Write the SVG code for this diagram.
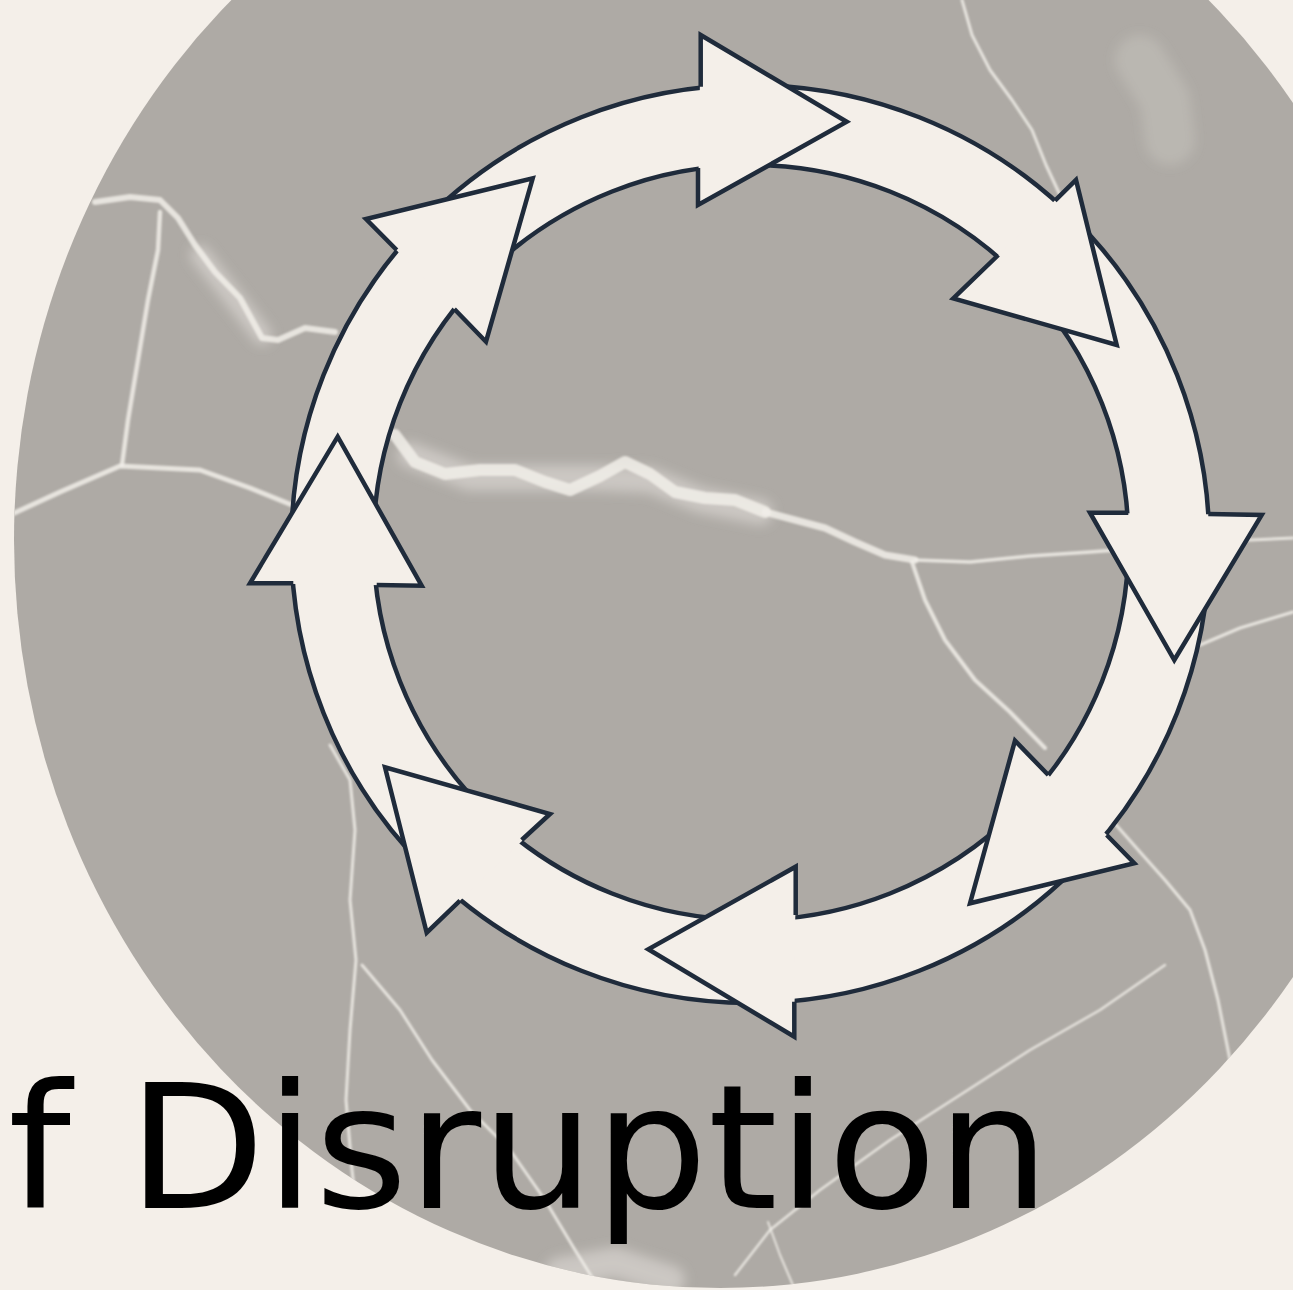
<svg xmlns="http://www.w3.org/2000/svg" width="1293" height="1290" viewBox="0 0 1293 1290">
  <defs>
    <style>
      .bg { fill: #F4EFE9; }
      .stone { fill: #AEAAA5; }
      .vein { fill: none; stroke: #F1EEE9; stroke-linecap: round; stroke-linejoin: round; opacity: 0.85; }
      .vein-soft { fill: none; stroke: #E9E6E1; stroke-linecap: round; stroke-linejoin: round; opacity: 0.5; }
      .ring { fill: #F4EFE9; fill-rule: evenodd; stroke: #1F2B3B; stroke-width: 4.5; }
      .head-fill { fill: #F4EFE9; stroke: none; }
      .head-line { fill: none; stroke: #1F2B3B; stroke-width: 4.5; stroke-linejoin: miter; stroke-linecap: butt; }
      .title { font-family: "DejaVu Sans", "Liberation Sans", sans-serif; font-size: 173px; fill: #000000; }
    </style>
    <clipPath id="stoneClip">
      <ellipse cx="720" cy="540" rx="706" ry="748"/>
    </clipPath>
    <filter id="soften" x="-10%" y="-10%" width="120%" height="120%">
      <feGaussianBlur stdDeviation="1"/>
    </filter>
    <filter id="haze" x="-20%" y="-20%" width="140%" height="140%">
      <feGaussianBlur stdDeviation="6"/>
    </filter>
  </defs>

  <!-- page -->
  <rect class="bg" x="0" y="0" width="1293" height="1290"/>

  <!-- marble disc -->
  <g id="marble">
    <ellipse class="stone" cx="720" cy="540" rx="706" ry="748"/>
    <!-- cloudy light patches -->
    <g clip-path="url(#stoneClip)" filter="url(#haze)">
      <path class="vein-soft" stroke-width="26" d="M410 455 L470 478 L540 478 L600 478 L650 480 L700 500 L760 512"/>
      <path class="vein-soft" stroke-width="20" d="M200 255 L235 300 L262 335"/>
      <path class="vein-soft" stroke-width="50" style="opacity:0.22" d="M1140 60 L1165 100 L1170 140"/>
      <path class="vein-soft" stroke-width="30" d="M560 1272 L615 1262 L670 1280"/>
    </g>
    <g clip-path="url(#stoneClip)" filter="url(#soften)">
      <!-- main horizontal crack -->
      <path class="vein" stroke-width="5" d="M10 515 L60 492 L120 466 L200 470 L250 488 L292 505"/>
      <path class="vein" stroke-width="12" d="M395 435 L415 462 L445 474 L480 470 L515 470 L545 482 L570 490 L600 476 L625 462 L650 474 L675 492 L705 498 L735 500 L765 512"/>
      <path class="vein" stroke-width="7" d="M765 512 L795 520 L825 528 L855 542 L885 555 L915 560"/>
      <path class="vein" stroke-width="3.5" d="M915 560 L970 562 L1030 556 L1090 552 L1130 549"/>
      <path class="vein" stroke-width="3" d="M1205 543 L1250 540 L1293 538"/>
      <path class="vein" stroke-width="4" d="M912 562 L925 600 L945 640 L975 680 L1010 712 L1045 748"/>
      <path class="vein" stroke-width="3" d="M1110 818 L1140 852 L1165 880 L1190 910 L1205 950 L1218 1000 L1230 1060"/>
      <path class="vein" stroke-width="3" d="M1200 645 L1240 628 L1293 612"/>
      <!-- upper left crack -->
      <path class="vein" stroke-width="6" d="M95 202 L130 197 L160 200 L178 218 L195 245 L215 272 L240 298 L262 338 L278 340 L305 328 L335 332"/>
      <path class="vein" stroke-width="4.5" d="M160 212 L158 250 L148 300 L138 360 L128 420 L122 465"/>
      <!-- top right crack -->
      <path class="vein" stroke-width="3" d="M962 0 L972 35 L990 70 L1012 100 L1032 130 L1046 165 L1060 195"/>
      <!-- lower left crack -->
      <path class="vein" stroke-width="3" d="M330 745 L350 780 L355 830 L350 900 L356 960 L350 1030 L346 1100 L352 1170 L360 1240"/>
      <path class="vein" stroke-width="3" d="M362 965 L400 1010 L432 1060 L470 1110 L510 1150 L545 1200 L575 1250 L600 1290"/>
      <!-- lower right diagonal -->
      <path class="vein" stroke-width="2.5" d="M1165 965 L1100 1010 L1030 1050 L960 1095 L890 1140 L820 1190 L770 1230 L735 1275"/>
      <path class="vein" stroke-width="2" d="M768 1222 L780 1255 L795 1290"/>
    </g>
  </g>

  <!-- cycle: continuous band, heads laid on top -->
  <g id="cycle">
    <g id="band">
      <path class="ring" d="M1209.3 544 A459 459 0 1 1 291.3 544 A459 459 0 1 1 1209.3 544 Z M1128.5 542.5 A377.5 377.5 0 1 0 373.5 542.5 A377.5 377.5 0 1 0 1128.5 542.5 Z"/>
    </g>
    <g id="head-top">
      <polygon class="head-fill" points="700.7,35 846.7,121.7 698,205"/>
      <polyline class="head-line" points="700.7,86.7 700.7,35 846.7,121.7 698,205 698,168"/>
    </g>
    <g id="head-upper-right">
      <polygon class="head-fill" points="1076,180 1116.7,345 953.3,298.3"/>
      <polyline class="head-line" points="1055,200.7 1076,180 1116.7,345 953.3,298.3 998.3,255"/>
    </g>
    <g id="head-right">
      <polygon class="head-fill" points="1261.7,515 1174.3,660 1090,512.7"/>
      <polyline class="head-line" points="1208.3,514 1261.7,515 1174.3,660 1090,512.7 1128.3,512.7"/>
    </g>
    <g id="head-lower-right">
      <polygon class="head-fill" points="1134.3,863.3 970,903.3 1015,740.7"/>
      <polyline class="head-line" points="1106.7,835 1134.3,863.3 970,903.3 1015,740.7 1048.3,775"/>
    </g>
    <g id="head-bottom">
      <polygon class="head-fill" points="794.3,1036.7 648.3,949.3 795.7,866.7"/>
      <polyline class="head-line" points="794.3,1001.7 794.3,1036.7 648.3,949.3 795.7,866.7 795.7,915"/>
    </g>
    <g id="head-lower-left">
      <polygon class="head-fill" points="426.7,932.7 385,767.3 550,814"/>
      <polyline class="head-line" points="460,900.7 426.7,932.7 385,767.3 550,814 521.7,840"/>
    </g>
    <g id="head-left">
      <polygon class="head-fill" points="250,583.3 337.7,436.7 421.7,585.7"/>
      <polyline class="head-line" points="293.3,583.3 250,583.3 337.7,436.7 421.7,585.7 376.7,585"/>
    </g>
    <g id="head-upper-left">
      <polygon class="head-fill" points="366,219 532.7,178.3 486,341.7"/>
      <polyline class="head-line" points="396.7,250 366,219 532.7,178.3 486,341.7 454.3,309"/>
    </g>
  </g>

  <!-- caption -->
  <text class="title" x="8" y="1208" textLength="1042" lengthAdjust="spacingAndGlyphs">f Disruption</text>
</svg>
